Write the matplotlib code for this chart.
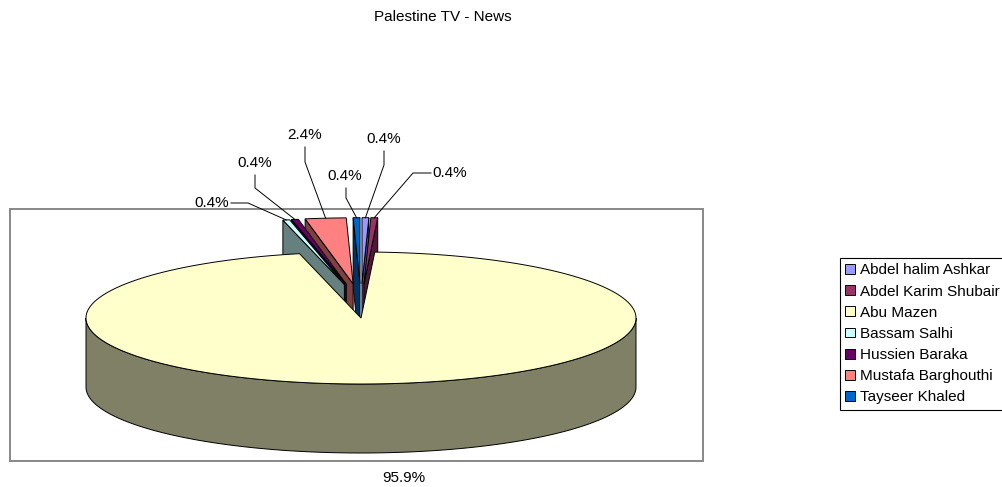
import numpy as np
import matplotlib
matplotlib.use('Agg')
import matplotlib.pyplot as plt
from matplotlib.patches import Polygon, Patch, Rectangle
from matplotlib import colors as mcolors

plt.rcParams['font.family'] = ['Liberation Sans', 'DejaVu Sans']

# data (share of airtime, %)
names = ['Abdel halim Ashkar', 'Abdel Karim Shubair', 'Abu Mazen', 'Bassam Salhi',
         'Hussien Baraka', 'Mustafa Barghouthi', 'Tayseer Khaled']
shares = [0.4, 0.4, 95.9, 0.4, 0.4, 2.4, 0.4]
colors = ['#9999FF', '#993366', '#FFFFCC', '#CCFFFF', '#660066', '#FF8080', '#0066CC']
explode = [0.52, 0.52, 0.0, 0.52, 0.52, 0.52, 0.52]

# pie geometry (pixels)
cx, cy = 361, 318
rx, ry = 275, 66
depth = 69
kx = 0.55

# label text positions and leader lines (start, elbow)
label_pos = [(384, 139), (450, 173), (404, 478), (212, 203), (255, 163), (305, 135), (345, 176)]
leaders = [[(384, 151), (384, 165)], [(431, 173), (413, 173)], None,
           [(231, 203), (248, 203)], [(255, 175), (255, 188)],
           [(305, 147), (305, 162)], [(346, 188), (346, 198)]]


def proj(r, th, sx, sy, z=0):
    return (cx + sx + rx * r * np.cos(th), cy + sy - ry * r * np.sin(th) + z)


def draw_slice(ax, t1, t2, sx, sy, color):
    dark = tuple(0.5 * c for c in mcolors.to_rgb(color))
    # front side wall
    for k in range(-1, 3):
        a = max(t1, 180 + 360 * k)
        b = min(t2, 360 + 360 * k)
        if b > a:
            th = np.radians(np.linspace(a, b, 200))
            top = [proj(1, t, sx, sy) for t in th]
            bot = [proj(1, t, sx, sy, depth) for t in th[::-1]]
            ax.add_patch(Polygon(top + bot, fc=dark, ec='black', lw=0.7))
    # radial faces facing the viewer
    for t, n in ((t1, t1 - 90), (t2, t2 + 90)):
        if np.sin(np.radians(n)) < -1e-6:
            c0 = proj(0, 0, sx, sy)
            c1 = proj(1, np.radians(t), sx, sy)
            pts = [c0, c1, (c1[0], c1[1] + depth), (c0[0], c0[1] + depth)]
            ax.add_patch(Polygon(pts, fc=dark, ec='black', lw=0.7))
    # top face
    th = np.radians(np.linspace(t1, t2, max(10, int(t2 - t1) * 3)))
    pts = [proj(0, 0, sx, sy)] + [proj(1, t, sx, sy) for t in th]
    ax.add_patch(Polygon(pts, fc=color, ec='black', lw=0.7))


fig = plt.figure(figsize=(10.02, 4.87), dpi=100)
ax = fig.add_axes([0, 0, 1, 1])
ax.set_xlim(0, 1002)
ax.set_ylim(487, 0)
ax.axis('off')

ax.add_patch(Rectangle((10, 209), 693, 252, fill=False, ec='#888888', lw=1.4))

total = sum(shares)
start = 90.0
slices = []
for i, v in enumerate(shares):
    span = v / total * 360
    t1, t2 = start - span, start
    start = t1
    mid = np.radians((t1 + t2) / 2)
    sx = kx * explode[i] * rx * np.cos(mid)
    sy = -explode[i] * ry * np.sin(mid)
    slices.append((t1, t2, sx, sy, mid, i))

# exploded (back) slices first, farthest first, then the big one
order = [s for s in slices if explode[s[5]] > 0]
order.sort(key=lambda s: np.sin(s[4]), reverse=True)
order += [s for s in slices if explode[s[5]] == 0]
for t1, t2, sx, sy, mid, i in order:
    draw_slice(ax, t1, t2, sx, sy, colors[i])

for t1, t2, sx, sy, mid, i in slices:
    x, y = label_pos[i]
    ax.text(x, y, f'{shares[i]:.1f}%', ha='center', va='center', fontsize=11)
    if leaders[i] is not None:
        end = proj(1, mid, sx, sy)
        pts = leaders[i] + [end]
        ax.plot([p[0] for p in pts], [p[1] for p in pts], color='black', lw=0.7)

ax.text(443, 17, 'Palestine TV - News', ha='center', va='center', fontsize=11)

handles = [Patch(fc=c, ec='black', lw=0.7) for c in colors]
leg = fig.legend(handles, names, loc='upper left', bbox_to_anchor=(840 / 1002, 1 - 258 / 487),
                 frameon=True, fancybox=False, framealpha=1, edgecolor='black',
                 borderpad=0.35, labelspacing=0.47, handlelength=0.6, handleheight=0.6,
                 handletextpad=0.35, borderaxespad=0, fontsize=11)
leg.get_frame().set_linewidth(0.8)

fig.savefig('out.png', dpi=100)
